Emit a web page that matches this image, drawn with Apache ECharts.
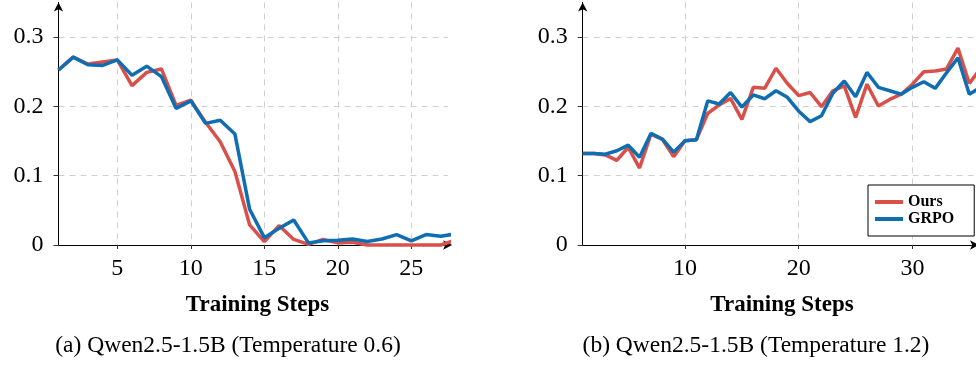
<!DOCTYPE html>
<html>
<head>
<meta charset="utf-8">
<script src="https://cdn.jsdelivr.net/npm/echarts@6/dist/echarts.min.js"></script>
<style>
  html, body { margin: 0; padding: 0; background: #fff; }
  #chart { width: 976px; height: 370px; }
</style>
</head>
<body>
<div id="chart"></div>
<script>
// (a) Temperature 0.6
const stepsA = [1, 2, 3, 4, 5, 6, 7, 8, 9, 10, 11, 12, 13, 14, 15, 16, 17, 18, 19, 20, 21, 22, 23, 24, 25, 26, 27, 28];
const oursA = [0.2525, 0.271, 0.261, 0.264, 0.267, 0.230, 0.249, 0.254, 0.2015, 0.209, 0.177, 0.149, 0.106, 0.029,
  0.005, 0.028, 0.008, 0.001, 0.008, 0.003, 0.004, 0, 0, 0, 0, 0, 0, 0.007];
const grpoA = [0.2525, 0.271, 0.260, 0.259, 0.267, 0.245, 0.258, 0.243, 0.197, 0.208, 0.1755, 0.180, 0.160, 0.0515,
  0.0106, 0.024, 0.036, 0.003, 0.006, 0.007, 0.0087, 0.005, 0.0087, 0.015, 0.006, 0.015, 0.0125, 0.016];

// (b) Temperature 1.2
const stepsB = [1, 2, 3, 4, 5, 6, 7, 8, 9, 10, 11, 12, 13, 14, 15, 16, 17, 18, 19, 20, 21, 22, 23, 24, 25, 26, 27, 28,
  29, 30, 31, 32, 33, 34, 35, 36];
const oursB = [0.132, 0.132, 0.130, 0.122, 0.141, 0.111, 0.160, 0.1525, 0.1275, 0.1505, 0.152, 0.190, 0.202, 0.2115,
  0.181, 0.2275, 0.226, 0.255, 0.233, 0.2155, 0.220, 0.1995, 0.2225, 0.2295, 0.184, 0.232, 0.2005, 0.210, 0.2175,
  0.232, 0.250, 0.251, 0.254, 0.284, 0.233, 0.255];
const grpoB = [0.132, 0.132, 0.131, 0.136, 0.144, 0.1265, 0.161, 0.153, 0.134, 0.1505, 0.152, 0.208, 0.2035, 0.220,
  0.199, 0.2165, 0.211, 0.2225, 0.213, 0.193, 0.178, 0.1865, 0.219, 0.2365, 0.214, 0.249, 0.2275, 0.2225, 0.2175,
  0.2275, 0.2355, 0.226, 0.2485, 0.270, 0.2175, 0.2275];

const ticksA = [5, 10, 15, 20, 25];
const ticksB = [10, 20, 30];
const ticksY = [0, 0.1, 0.2, 0.3];

const RED = '#d9504a';
const BLUE = '#0f6eb2';
const serif = '"Liberation Serif", "DejaVu Serif", serif';

const pair = (xs, ys) => xs.map((x, i) => [x, ys[i]]);

const xAxisBase = (gridIndex, min, max, ticks) => ({
  type: 'value',
  gridIndex,
  min,
  max,
  axisLine: { show: true, onZero: false, lineStyle: { color: '#000', width: 1 },
    symbol: ['none', 'arrow'], symbolSize: [7, 9], symbolOffset: [0, 4] },
  axisTick: { show: true, length: 4, lineStyle: { color: '#333' }, customValues: ticks },
  axisLabel: { customValues: ticks, margin: 12, fontFamily: serif, fontSize: 24, color: '#000' },
  splitLine: { show: true, lineStyle: { color: '#d0d0d0', type: [6, 5], width: 1 } }
});

const yAxisBase = (gridIndex) => ({
  type: 'value',
  gridIndex,
  min: 0,
  max: 0.35,
  axisLine: { show: true, onZero: false, lineStyle: { color: '#000', width: 1 },
    symbol: ['none', 'arrow'], symbolSize: [7, 9] },
  axisTick: { show: true, length: 5, lineStyle: { color: '#333' }, customValues: ticksY },
  axisLabel: { customValues: ticksY, margin: 15, fontFamily: serif, fontSize: 24, color: '#000',
    formatter: v => (v === 0 ? '0' : v.toFixed(1)) },
  splitLine: { show: true, lineStyle: { color: '#d0d0d0', type: [6, 5], width: 1 } }
});

const lineSeries = (name, color, idx, data) => ({
  name,
  type: 'line',
  xAxisIndex: idx,
  yAxisIndex: idx,
  data,
  color,
  showSymbol: false,
  clip: false,
  lineStyle: { width: 3.5, color },
  emphasis: { disabled: true }
});

const label = (text, x, y, font) => ({
  type: 'text',
  style: { text, x, y, textAlign: 'center', textVerticalAlign: 'middle', font, fill: '#000' }
});

const chart = echarts.init(document.getElementById('chart'));
chart.setOption({
  animation: false,
  backgroundColor: '#fff',
  grid: [
    { left: 58.5, top: 2.4, width: 389.6, height: 242.6, outerBoundsMode: 'none' },
    { left: 582.7, top: 2.4, width: 392.3, height: 242.6, outerBoundsMode: 'none' }
  ],
  xAxis: [xAxisBase(0, 1, 27.5, ticksA), xAxisBase(1, 1, 35.5, ticksB)],
  yAxis: [yAxisBase(0), yAxisBase(1)],
  legend: {
    data: ['Ours', 'GRPO'],
    orient: 'vertical',
    left: 868,
    top: 185,
    padding: [9, 20, 9, 7],
    itemGap: 1,
    itemWidth: 28,
    itemHeight: 4,
    icon: 'rect',
    backgroundColor: '#fff',
    borderColor: '#000',
    borderWidth: 1,
    borderRadius: 0,
    textStyle: { fontFamily: serif, fontSize: 16, fontWeight: 'bold', color: '#000', lineHeight: 16 }
  },
  series: [
    lineSeries('Ours', RED, 0, pair(stepsA, oursA)),
    lineSeries('GRPO', BLUE, 0, pair(stepsA, grpoA)),
    lineSeries('Ours', RED, 1, pair(stepsB, oursB)),
    lineSeries('GRPO', BLUE, 1, pair(stepsB, grpoB))
  ],
  graphic: [
    label('Training Steps', 257.5, 305, 'bold 23px ' + serif),
    label('Training Steps', 782, 305, 'bold 23px ' + serif),
    label('(a) Qwen2.5-1.5B (Temperature 0.6)', 228, 346, '23.5px ' + serif),
    label('(b) Qwen2.5-1.5B (Temperature 1.2)', 756, 346, '23.5px ' + serif)
  ]
});
</script>
</body>
</html>
